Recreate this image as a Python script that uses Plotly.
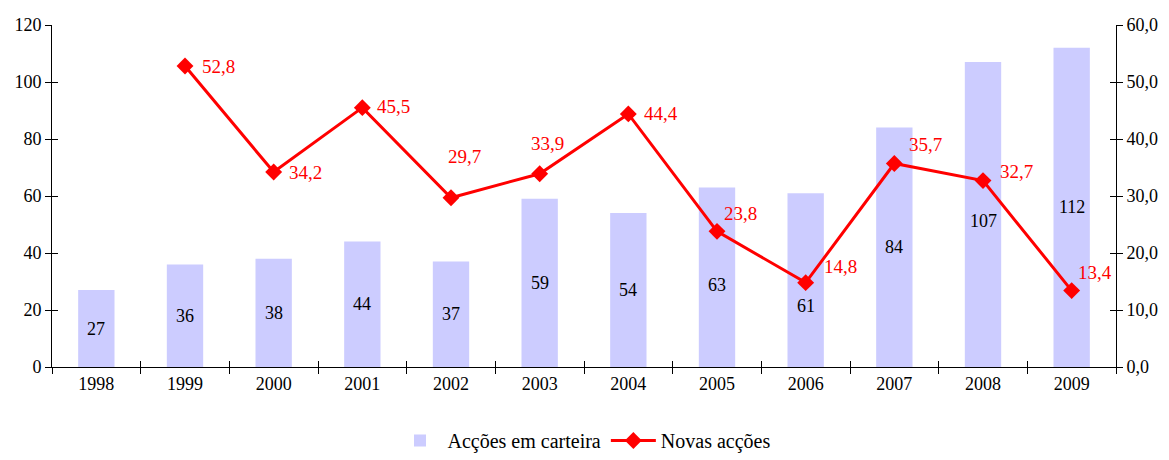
import plotly.graph_objects as go

years = ["1998", "1999", "2000", "2001", "2002", "2003", "2004", "2005", "2006", "2007", "2008", "2009"]
carteira = [27, 36, 38, 44, 37, 59, 54, 63, 61, 84, 107, 112]
novas = [None, 52.8, 34.2, 45.5, 29.7, 33.9, 44.4, 23.8, 14.8, 35.7, 32.7, 13.4]

# label offsets in pixels (style only)
bar_label_yshift = [0, 0, 0, 0, 0, 0, 0, -8, -26, 0, -6, 0]
line_label_dx = [0, 33, 32, 31, 13, 8, 33, 23, 35, 31, 33, 23]
line_label_dy = [0, 0, 0, 1, 41, 30, 0, 18, 16, 19, 9, 18]

FONT = "Liberation Serif, Times New Roman, serif"
FS = 18

fig = go.Figure()
fig.add_trace(go.Bar(
    x=years, y=carteira, name="Acções em carteira",
    marker=dict(color="#CCCCFF", line=dict(width=0)),
    yaxis="y",
))
fig.add_trace(go.Scatter(
    x=years, y=novas, name="Novas acções", yaxis="y2",
    mode="lines+markers",
    line=dict(color="#FF0000", width=3),
    marker=dict(symbol="diamond", size=13, color="#FF0000"),
    cliponaxis=False,
))
# empty helper traces so the inner-tick overlay axes get drawn
for ya in ("y3", "y4"):
    fig.add_trace(go.Scatter(x=[None], y=[None], xaxis="x2", yaxis=ya, mode="markers",
                             showlegend=False, hoverinfo="skip"))

annotations = []
for i, (v, sh) in enumerate(zip(carteira, bar_label_yshift)):
    annotations.append(dict(
        x=i, y=v / 2, xref="x", yref="y", text=str(v), showarrow=False,
        yshift=sh, font=dict(family=FONT, size=FS, color="black"),
    ))
for i, (v, dx, dy) in enumerate(zip(novas, line_label_dx, line_label_dy)):
    if v is None:
        continue
    annotations.append(dict(
        x=i, y=v, xref="x", yref="y2", text=f"{v:.1f}".replace(".", ","),
        showarrow=False, xshift=dx, yshift=dy,
        font=dict(family=FONT, size=FS + 1, color="#FF0000"),
    ))

n = len(years)
fig.update_layout(
    width=1169, height=460,
    margin=dict(l=52, r=53, t=25, b=93),
    paper_bgcolor="white", plot_bgcolor="white",
    separators=",.",
    font=dict(family=FONT, size=FS, color="black"),
    bargap=0.59,
    showlegend=True,
    annotations=annotations,
    legend=dict(orientation="h", x=0.5, xanchor="center", xref="paper",
                y=0.0, yanchor="bottom", yref="container", itemwidth=45,
                font=dict(family=FONT, size=20), traceorder="normal"),
    xaxis=dict(
        type="category", range=[-0.5, n - 0.5], showline=True, linecolor="black", linewidth=1,
        ticks="outside", ticklen=6, tickcolor="black", tickson="boundaries",
        showgrid=False, zeroline=False, tickfont=dict(family=FONT, size=FS),
    ),
    xaxis2=dict(
        type="linear", range=[-0.5, n - 0.5], tick0=-0.5, dtick=1, overlaying="x", anchor="y",
        side="bottom", ticks="inside", ticklen=6, tickcolor="black", showticklabels=False,
        showline=False, showgrid=False, zeroline=False,
    ),
    yaxis=dict(
        range=[0, 120], dtick=20, showline=True, linecolor="black", linewidth=1,
        ticks="outside", ticklen=6, tickcolor="black", showgrid=False, zeroline=False,
        tickfont=dict(family=FONT, size=FS),
    ),
    yaxis3=dict(
        range=[0, 120], dtick=20, overlaying="y", side="left", anchor="x",
        ticks="inside", ticklen=6, tickcolor="black", showticklabels=False,
        showline=False, showgrid=False, zeroline=False,
    ),
    yaxis2=dict(
        range=[0, 60], dtick=10, tickformat=".1f", overlaying="y", side="right",
        showline=True, linecolor="black", linewidth=1,
        ticks="outside", ticklen=6, tickcolor="black", showgrid=False, zeroline=False,
        tickfont=dict(family=FONT, size=FS),
    ),
    yaxis4=dict(
        range=[0, 60], dtick=10, overlaying="y", side="right", anchor="x",
        ticks="inside", ticklen=6, tickcolor="black", showticklabels=False,
        showline=False, showgrid=False, zeroline=False,
    ),
)

fig.write_html("out.html", config={"displayModeBar": False},
               post_script="document.body.style.margin='0';")
